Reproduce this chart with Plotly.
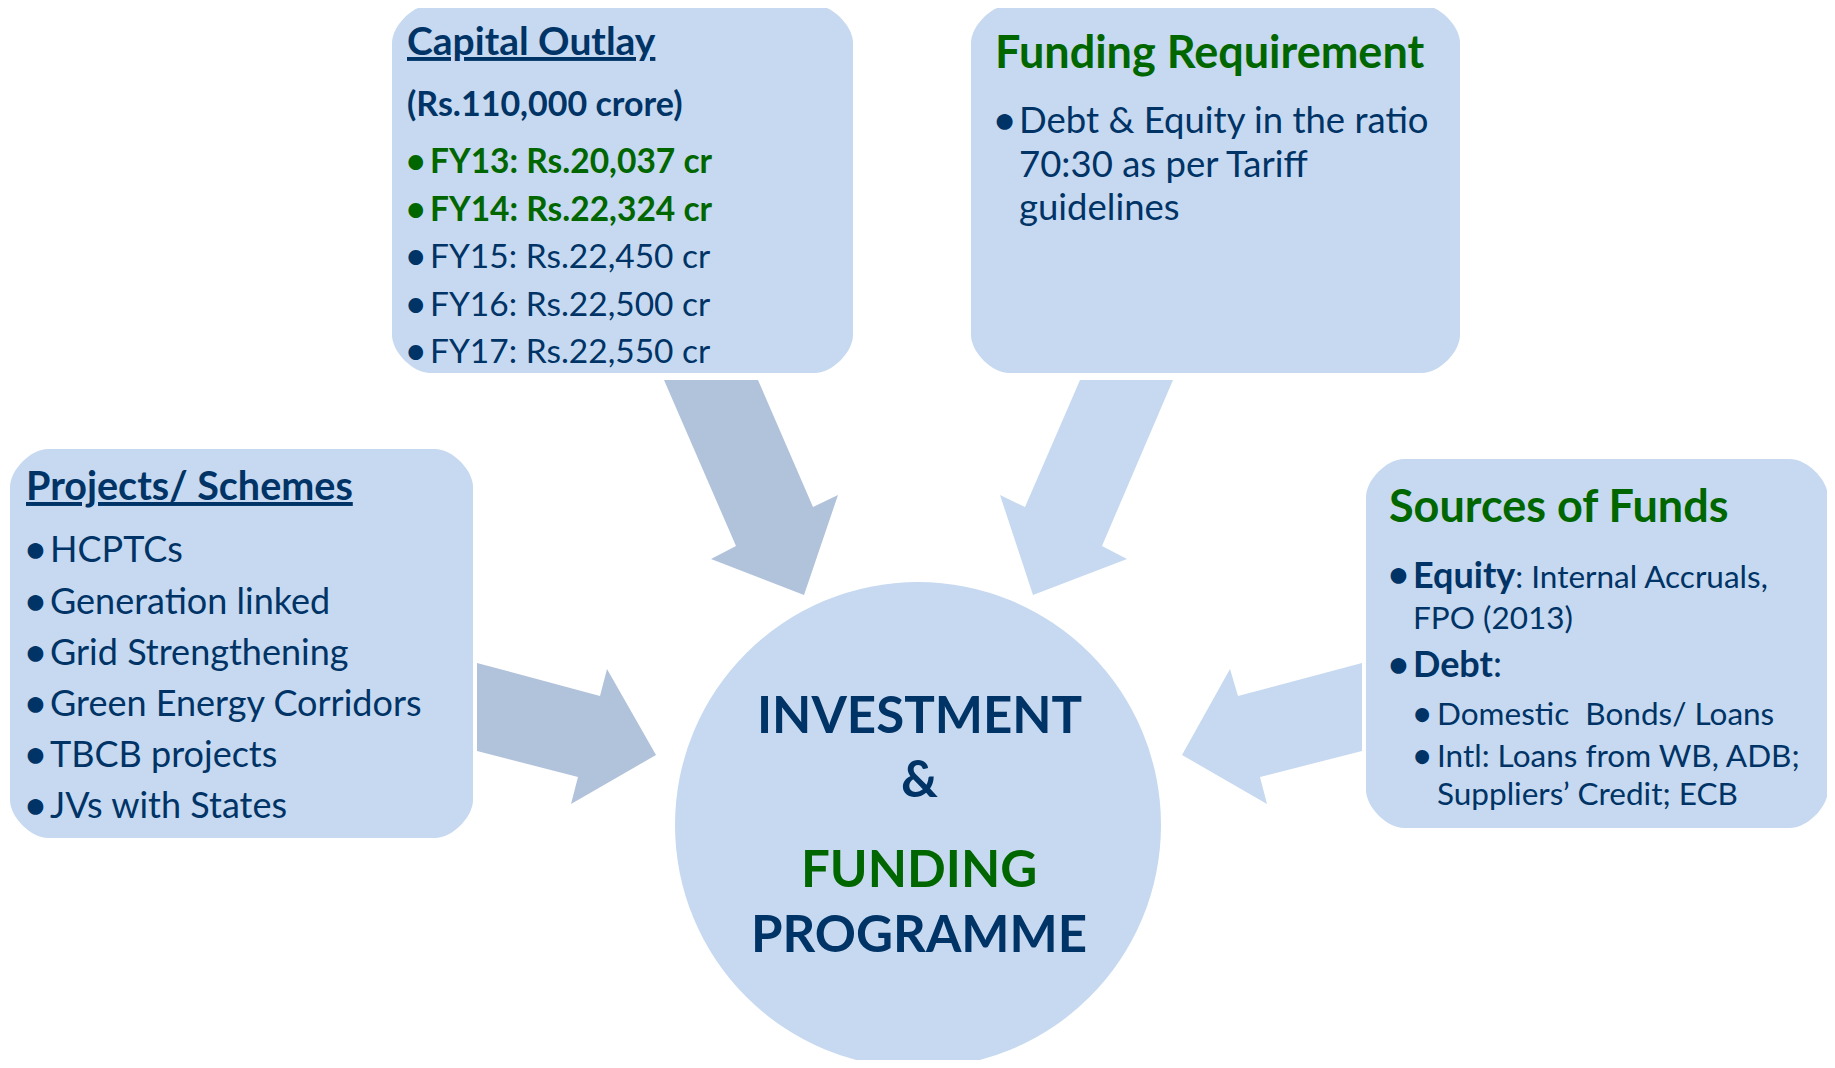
import plotly.graph_objects as go

# ── Content ───────────────────────────────────────────────────────────────────

capital_title = "Capital Outlay"
capital_total = "(Rs.110,000 crore)"
capital_years = ["FY13", "FY14", "FY15", "FY16", "FY17"]
capital_amounts = [20037, 22324, 22450, 22500, 22550]
capital_highlight = [True, True, False, False, False]

funding_title = "Funding Requirement"
funding_lines = ["Debt & Equity in the ratio", "70:30 as per Tariff", "guidelines"]

projects_title = "Projects/ Schemes"
projects_items = [
    "HCPTCs",
    "Generation linked",
    "Grid Strengthening",
    "Green Energy Corridors",
    "TBCB projects",
    "JVs with States",
]

sources_title = "Sources of Funds"
equity_label = "Equity"
equity_lines = ["Internal Accruals,", "FPO (2013)"]
debt_label = "Debt"
debt_items = [["Domestic\u00a0 Bonds/ Loans"], ["Intl: Loans from WB, ADB;", "Suppliers’ Credit; ECB"]]

center_lines = ["INVESTMENT", "&", "FUNDING", "PROGRAMME"]
center_colors = ["navy", "navy", "green", "navy"]

# ── Style ─────────────────────────────────────────────────────────────────────

W, H = 1835, 1068
PAD = 8  # page body margin of the html wrapper
FONT = "Lato, 'Open Sans', sans-serif"
NAVY = "#003366"
GREEN = "#006600"
BOX = "#C6D9F0"
ARROW_DARK = "#B1C2DB"
COLORS = {"navy": NAVY, "green": GREEN}


def rounded_rect(x0, y0, x1, y1, r):
    k = 0.45 * r
    return (
        f"M{x0 + r},{y0} L{x1 - r},{y0} "
        f"C{x1 - r + k},{y0} {x1},{y0 + r - k} {x1},{y0 + r} "
        f"L{x1},{y1 - r} "
        f"C{x1},{y1 - r + k} {x1 - r + k},{y1} {x1 - r},{y1} "
        f"L{x0 + r},{y1} "
        f"C{x0 + r - k},{y1} {x0},{y1 - r + k} {x0},{y1 - r} "
        f"L{x0},{y0 + r} "
        f"C{x0},{y0 + r - k} {x0 + r - k},{y0} {x0 + r},{y0} Z"
    )


def polygon(pts):
    return "M" + " L".join(f"{x},{y}" for x, y in pts) + " Z"


fig = go.Figure()
shapes = []
notes = []


def text(x, baseline, s, size, color=NAVY, bold=False, anchor="left"):
    if bold:
        s = f"<b>{s}</b>"
    notes.append(dict(
        x=x, y=baseline - 0.38 * size, text=s, showarrow=False, borderpad=0,
        xanchor=anchor, yanchor="middle", xref="x", yref="y",
        font=dict(family=FONT, size=size, color=color),
    ))


def bullet(x, baseline, size, color=NAVY):
    # bold dot (bigger glyph, same box height as the text line)
    notes.append(dict(
        x=x, y=baseline - 0.29 * size - 0.087 * size, text="<b>•</b>", showarrow=False, borderpad=0,
        xanchor="center", yanchor="middle", xref="x", yref="y",
        font=dict(family=FONT, size=size, color=color),
    ))


# arrows (drawn first, under boxes)
arrows = [
    ([(664, 380), (758, 380), (813, 507), (838, 495), (804, 595), (711, 559), (736, 546)], ARROW_DARK),
    ([(1080, 380), (1173, 380), (1102, 546), (1127, 559), (1033, 595), (1000, 495), (1025, 507)], BOX),
    ([(477, 663), (600, 696), (607, 669), (656, 755), (571, 804), (578, 777), (477, 751)], ARROW_DARK),
    ([(1362, 663), (1238, 696), (1230, 669), (1182, 755), (1267, 804), (1260, 777), (1362, 751)], BOX),
]
for pts, col in arrows:
    shapes.append(dict(type="path", path=polygon(pts), fillcolor=col, line=dict(width=0), layer="below"))

# boxes
for x0, y0, x1, y1 in [(392, 5, 853, 373), (971, 5, 1460, 373), (10, 449, 473, 838), (1366, 459, 1828, 828)]:
    shapes.append(dict(type="path", path=rounded_rect(x0, y0, x1, y1, 38),
                       fillcolor=BOX, line=dict(width=0), layer="below"))

# centre circle
shapes.append(dict(type="circle", x0=675, x1=1161, y0=582, y1=1068,
                   fillcolor=BOX, line=dict(width=0), layer="below"))

# ── Capital Outlay ────────────────────────────────────────────────────────────
text(406, 55, f"<u>{capital_title}</u>", 39, bold=True)
text(406, 115, capital_total, 34, bold=True)
for i, (fy, amt, hl) in enumerate(zip(capital_years, capital_amounts, capital_highlight)):
    base = 173 + i * 47.5
    col = GREEN if hl else NAVY
    bullet(415, base, 33.5, col)
    text(429, base, f"{fy}: Rs.{amt:,} cr", 33.5, col, bold=hl)

# ── Funding Requirement ───────────────────────────────────────────────────────
text(994, 68, funding_title, 45, GREEN, bold=True)
bullet(1004, 133, 36.5)
for i, line in enumerate(funding_lines):
    text(1018, 133 + i * 43.5, line, 36.5)

# ── Projects / Schemes ────────────────────────────────────────────────────────
text(25, 500, f"<u>{projects_title}</u>", 39.5, bold=True)
for i, item in enumerate(projects_items):
    base = 562 + i * 51.2
    bullet(35, base, 36)
    text(49, base, item, 36)

# ── Sources of Funds ──────────────────────────────────────────────────────────
text(1388, 522, sources_title, 45, GREEN, bold=True)
bullet(1398, 587, 36)
# equity entry as one two-line block (bold label a little larger than the rest)
notes.append(dict(
    x=1412, y=587 - 0.987 * 36, showarrow=False, borderpad=0,
    text=(f"<b><span style='font-size:36px'>{equity_label}</span></b>: "
          f"{equity_lines[0]}<br>{equity_lines[1]}"),
    xanchor="left", yanchor="top", xref="x", yref="y", align="left",
    font=dict(family=FONT, size=31.5, color=NAVY),
))
bullet(1398, 677, 36)
text(1412, 677, f"<b>{debt_label}</b>:", 36)
sub_base = [725, 767]
for item, base in zip(debt_items, sub_base):
    bullet(1422, base, 31.5)
    for j, line in enumerate(item):
        text(1436, base + j * 38, line, 31.5)

# ── Centre ────────────────────────────────────────────────────────────────────
for line, base, c in zip(center_lines, [733, 797, 887, 952], center_colors):
    text(919, base, line, 51, COLORS[c], bold=True, anchor="center")

fig.update_layout(
    width=W - 2 * PAD, height=H - 2 * PAD,
    margin=dict(l=0, r=0, t=0, b=0),
    paper_bgcolor="white", plot_bgcolor="white",
    xaxis=dict(range=[PAD, W - PAD], visible=False, fixedrange=True),
    yaxis=dict(range=[H - PAD, PAD], visible=False, fixedrange=True),
    shapes=shapes, annotations=notes,
    showlegend=False,
)

fig.write_html("out.html")
